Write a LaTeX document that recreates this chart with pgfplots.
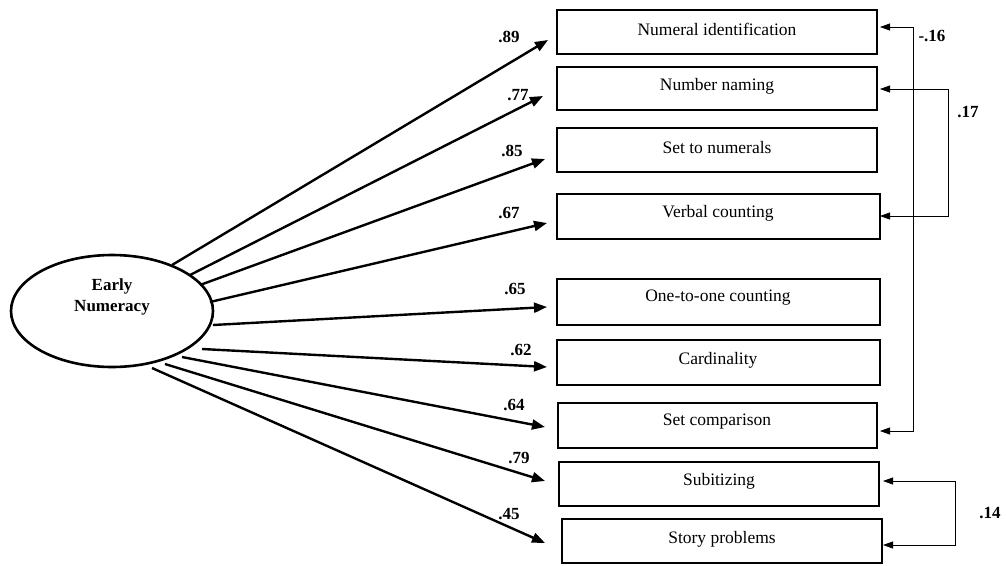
\documentclass[border=0pt]{standalone}
\usepackage{pgfplots}
\pgfplotsset{compat=1.18}
\usepackage{fontspec}
\setmainfont{Liberation Serif}
\usetikzlibrary{arrows.meta}
\tikzset{
    box/.style={line width=2.6pt, black},
    load/.style={line width=2.4pt, black, -{Triangle[length=13pt, width=10pt]}},
    cor/.style={line width=0.8pt, black, {Triangle[length=10pt, width=7pt]}-{Triangle[length=10pt, width=7pt]}},
    lbl/.style={font=\bfseries\fontsize{17}{19}\selectfont},
    txt/.style={font=\fontsize{17.5}{20}\selectfont},
}
\begin{document}
\begin{tikzpicture}
\begin{axis}[
    name=ax,
    scale only axis,
    width=1006pt, height=565pt,
    xmin=0, xmax=1006, ymin=0, ymax=565,
    y dir=reverse,
    hide axis, clip=false,
    ]
    % observed variables
    \addplot[box] coordinates {(557,10)(877,10)(877,54)(557,54)} -- cycle;
    \addplot[box] coordinates {(557,67)(877,67)(877,110)(557,110)} -- cycle;
    \addplot[box] coordinates {(557,128)(877,128)(877,172)(557,172)} -- cycle;
    \addplot[box] coordinates {(557,194)(880,194)(880,239)(557,239)} -- cycle;
    \addplot[box] coordinates {(557,279)(880,279)(880,325)(557,325)} -- cycle;
    \addplot[box] coordinates {(557,340)(880,340)(880,385)(557,385)} -- cycle;
    \addplot[box] coordinates {(558,403)(877,403)(877,448)(558,448)} -- cycle;
    \addplot[box] coordinates {(559,462)(879,462)(879,506)(559,506)} -- cycle;
    \addplot[box] coordinates {(562,519)(882,519)(882,563)(562,563)} -- cycle;

    \node[txt] at (axis cs:717,29) {Numeral identification};
    \node[txt] at (axis cs:717,86) {Number naming};
    \node[txt] at (axis cs:717,148) {Set to numerals};
    \node[txt] at (axis cs:718,213) {Verbal counting};
    \node[txt] at (axis cs:718,298) {One-to-one counting};
    \node[txt] at (axis cs:718,360) {Cardinality};
    \node[txt] at (axis cs:717,422) {Set comparison};
    \node[txt] at (axis cs:719,481) {Subitizing};
    \node[txt] at (axis cs:722,539) {Story problems};

    % latent variable
    \draw[line width=2.6pt] (axis cs:112,311) ellipse [x radius=101pt, y radius=56pt];
    \node[font=\bfseries\fontsize{17}{21}\selectfont, align=center] at (axis cs:112,297) {Early\\Numeracy};

    % loadings
    \addplot[load] coordinates {(172,265)(548,40)};
    \addplot[load] coordinates {(190,275)(543,96)};
    \addplot[load] coordinates {(200,285)(545,159)};
    \addplot[load] coordinates {(210,302)(547,223)};
    \addplot[load] coordinates {(213,325)(547,307)};
    \addplot[load] coordinates {(202,349)(547,367)};
    \addplot[load] coordinates {(182,357)(545,427)};
    \addplot[load] coordinates {(165,364)(545,481)};
    \addplot[load] coordinates {(152,368)(545,543)};

    \node[lbl] at (axis cs:509,37) {.89};
    \node[lbl] at (axis cs:518,95) {.77};
    \node[lbl] at (axis cs:512,151) {.85};
    \node[lbl] at (axis cs:509,213) {.67};
    \node[lbl] at (axis cs:515,289) {.65};
    \node[lbl] at (axis cs:521,350) {.62};
    \node[lbl] at (axis cs:514,405) {.64};
    \node[lbl] at (axis cs:519,458) {.79};
    \node[lbl] at (axis cs:509,514) {.45};

    % correlations
    \addplot[cor] coordinates {(880,27)(913,27)(913,431)(880,431)};
    \addplot[cor] coordinates {(880,89)(948,89)(948,216)(880,216)};
    \addplot[cor] coordinates {(883,481)(955,481)(955,545)(883,545)};
    \node[lbl] at (axis cs:932,36) {-.16};
    \node[lbl] at (axis cs:968,112) {.17};
    \node[lbl] at (axis cs:990,513) {.14};
\end{axis}
\pgfresetboundingbox
\useasboundingbox (ax.south west) rectangle (ax.north east);
\end{tikzpicture}
\end{document}
